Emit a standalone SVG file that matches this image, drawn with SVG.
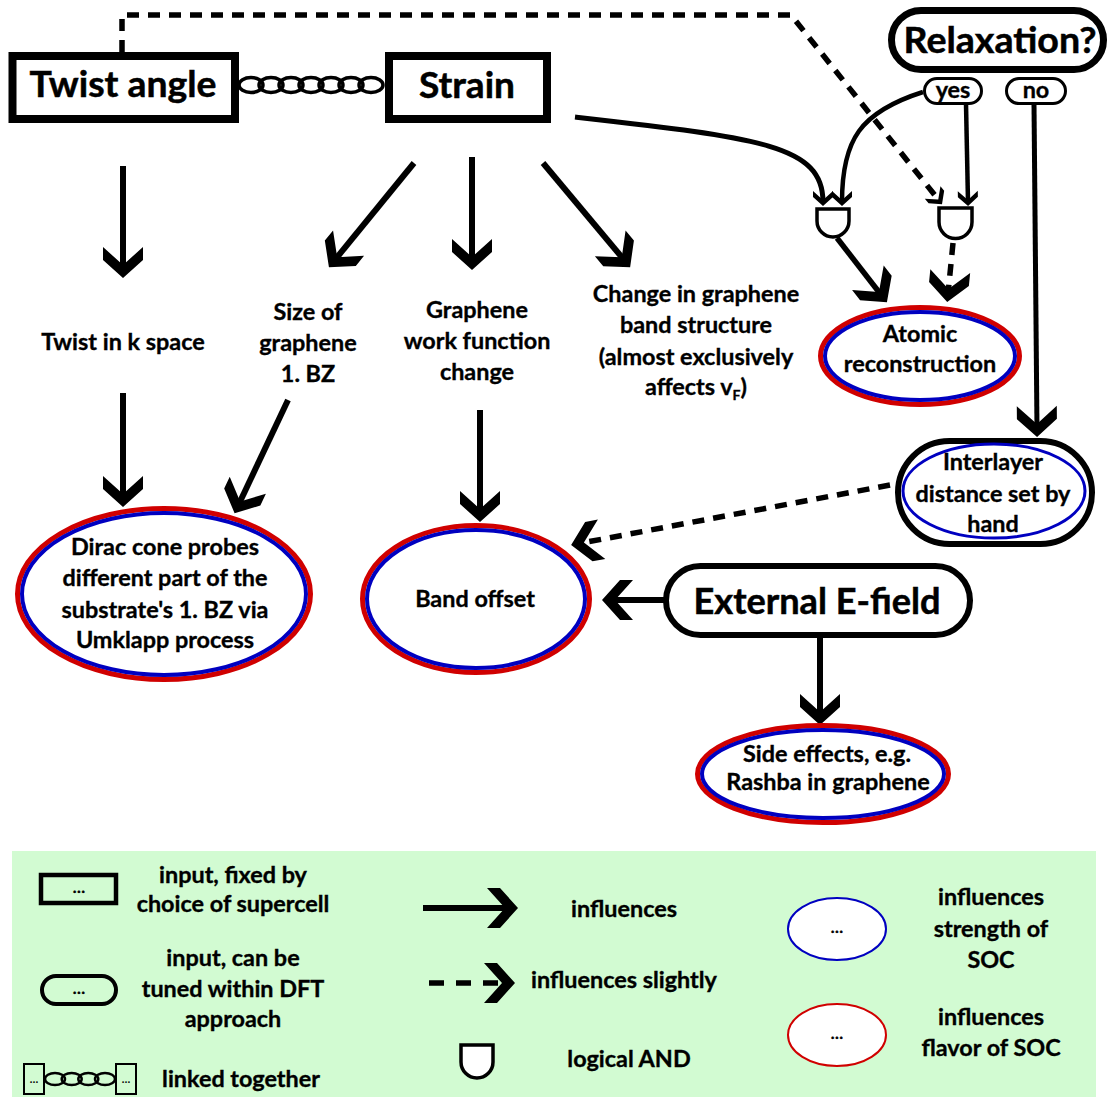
<svg xmlns="http://www.w3.org/2000/svg" width="1110" height="1104" viewBox="0 0 1110 1104">
<style>
.t{font-family:Lato,"Liberation Sans",sans-serif;font-weight:700;font-size:23.4px;text-anchor:middle;fill:#000;stroke:#000;stroke-width:0.35}
.big{font-size:36px;stroke-width:0.5}
.box{fill:#fff;stroke:#000}
.ln{fill:none;stroke:#000;stroke-width:6}
.dash{fill:none;stroke:#000;stroke-width:5.5;stroke-dasharray:12 9}
.red{fill:none;stroke:#d00000;stroke-width:5}
.blue{fill:none;stroke:#0000c0;stroke-width:4}
.link{fill:none;stroke:#000;stroke-width:3.5}
.gate{fill:#fff;stroke:#000;stroke-width:3.5}
</style>
<defs>
<marker id="ah" viewBox="-34 -22 40 44" refX="-8" refY="0" markerWidth="40" markerHeight="44" markerUnits="userSpaceOnUse" orient="auto">
<path d="M0,0 L-18,-20 L-31,-20 L-13,0 L-31,20 L-18,20 Z" fill="#000"/>
</marker>
<marker id="ahs" viewBox="-18 -12 22 24" refX="-4" refY="0" markerWidth="22" markerHeight="24" markerUnits="userSpaceOnUse" orient="auto">
<path d="M0,0 L-9,-10 L-15,-10 L-6,0 L-15,10 L-9,10 Z" fill="#000"/>
</marker>
</defs>
<rect width="1110" height="1104" fill="#fff"/>

<g id="legend">
<rect x="12" y="851" width="1084" height="246" fill="#d2fbd2"/>
<rect x="41" y="875" width="75" height="28" fill="none" stroke="#000" stroke-width="4.5"/>
<text class="t" x="79" y="893" style="font-size:16px">…</text>
<text class="t" x="233" y="883">input, fixed by</text>
<text class="t" x="233" y="912">choice of supercell</text>
<rect x="42" y="976" width="74" height="28" rx="14" fill="none" stroke="#000" stroke-width="4"/>
<text class="t" x="79" y="994" style="font-size:16px">…</text>
<text class="t" x="233" y="966">input, can be</text>
<text class="t" x="233" y="997">tuned within DFT</text>
<text class="t" x="233" y="1027">approach</text>
<rect x="24" y="1064" width="20" height="30" fill="none" stroke="#000" stroke-width="2"/>
<rect x="116" y="1064" width="20" height="30" fill="none" stroke="#000" stroke-width="2"/>
<text class="t" x="34" y="1083" style="font-size:11px;stroke-width:0">…</text>
<text class="t" x="126" y="1083" style="font-size:11px;stroke-width:0">…</text>
<g fill="none" stroke="#000" stroke-width="2.5">
<ellipse cx="55" cy="1079" rx="10" ry="6"/>
<ellipse cx="71.7" cy="1079" rx="10" ry="6"/>
<ellipse cx="88.3" cy="1079" rx="10" ry="6"/>
<ellipse cx="105" cy="1079" rx="10" ry="6"/>
</g>
<text class="t" x="241" y="1087">linked together</text>
<line x1="423" y1="908" x2="510" y2="908" class="ln" marker-end="url(#ah)"/>
<text class="t" x="624" y="917">influences</text>
<line x1="429" y1="983" x2="507" y2="983" class="dash" style="stroke-dasharray:15 12" marker-end="url(#ah)"/>
<text class="t" x="624" y="988">influences slightly</text>
<path d="M461,1045 L461,1062 A16,16 0 0 0 493,1062 L493,1045 Z" class="gate"/>
<text class="t" x="629" y="1067">logical AND</text>
<ellipse cx="837" cy="929" rx="49" ry="31" fill="#fff" stroke="#0000c0" stroke-width="2"/>
<text class="t" x="837" y="933" style="font-size:16px">…</text>
<ellipse cx="837" cy="1035" rx="49" ry="31" fill="#fff" stroke="#d00000" stroke-width="2"/>
<text class="t" x="837" y="1039" style="font-size:16px">…</text>
<text class="t" x="991" y="905">influences</text>
<text class="t" x="991" y="937">strength of</text>
<text class="t" x="991" y="968">SOC</text>
<text class="t" x="991" y="1025">influences</text>
<text class="t" x="991" y="1056">flavor of SOC</text>
</g>

<g id="connectors">
<path d="M122,52 L122,15 L791,15 L939.5,201" class="dash" marker-end="url(#ahs)"/>
<g id="chain">
<ellipse cx="251" cy="85" rx="12" ry="7.5" class="link"/>
<ellipse cx="271" cy="85" rx="12" ry="7.5" class="link"/>
<ellipse cx="291" cy="85" rx="12" ry="7.5" class="link"/>
<ellipse cx="311" cy="85" rx="12" ry="7.5" class="link"/>
<ellipse cx="331" cy="85" rx="12" ry="7.5" class="link"/>
<ellipse cx="351" cy="85" rx="12" ry="7.5" class="link"/>
<ellipse cx="371" cy="85" rx="12" ry="7.5" class="link"/>
</g>
<line x1="123" y1="166" x2="123" y2="270" class="ln" marker-end="url(#ah)"/>
<line x1="414" y1="163" x2="334" y2="261" class="ln" marker-end="url(#ah)"/>
<line x1="472" y1="157" x2="472" y2="262" class="ln" marker-end="url(#ah)"/>
<line x1="543" y1="163" x2="625" y2="261" class="ln" marker-end="url(#ah)"/>
<line x1="123" y1="393" x2="123" y2="499" class="ln" marker-end="url(#ah)"/>
<line x1="288" y1="400" x2="238" y2="506" class="ln" marker-end="url(#ah)"/>
<line x1="480" y1="410" x2="480" y2="514" class="ln" marker-end="url(#ah)"/>
<path d="M575,117 C760,138 823,145 823,202" fill="none" stroke="#000" stroke-width="5" marker-end="url(#ahs)"/>
<path d="M923,92 C860,112 842,140 842,202" fill="none" stroke="#000" stroke-width="4.5" marker-end="url(#ahs)"/>
<line x1="966" y1="104" x2="968" y2="202" fill="none" stroke="#000" stroke-width="4.5" marker-end="url(#ahs)"/>
<line x1="837" y1="238" x2="882" y2="296" fill="none" stroke="#000" stroke-width="5.5" marker-end="url(#ah)"/>
<line x1="953" y1="243" x2="948" y2="294" class="dash" marker-end="url(#ah)"/>
<line x1="1034" y1="104" x2="1037" y2="429" fill="none" stroke="#000" stroke-width="5" marker-end="url(#ah)"/>
<line x1="890" y1="485" x2="579" y2="543.5" class="dash" marker-end="url(#ah)"/>
<line x1="664" y1="600" x2="610" y2="600" class="ln" marker-end="url(#ah)"/>
<line x1="820" y1="638" x2="820" y2="717" class="ln" marker-end="url(#ah)"/>
</g>

<g id="twist-angle">
<rect x="12.5" y="56" width="222.5" height="63" class="box" stroke-width="8"/>
<text class="t big" x="123" y="97" textLength="187" lengthAdjust="spacingAndGlyphs">Twist angle</text>
</g>
<g id="strain">
<rect x="389" y="56" width="158" height="63" class="box" stroke-width="8"/>
<text class="t big" x="467" y="98" textLength="96" lengthAdjust="spacingAndGlyphs">Strain</text>
</g>
<g id="relaxation">
<rect x="891.5" y="10.5" width="212" height="59" rx="29.5" class="box" stroke-width="7"/>
<text class="t big" x="1000" y="53" textLength="193" lengthAdjust="spacingAndGlyphs">Relaxation?</text>
</g>
<g id="yes">
<rect x="924.5" y="78.5" width="57" height="25" rx="12.5" class="box" stroke-width="3"/>
<text class="t" x="953" y="98">yes</text>
</g>
<g id="no">
<rect x="1006.5" y="78.5" width="59" height="25" rx="12.5" class="box" stroke-width="3"/>
<text class="t" x="1036" y="98">no</text>
</g>
<g id="and1">
<path d="M817,209 L817,221 A16,16 0 0 0 849,221 L849,209 Z" class="gate"/>
</g>
<g id="and2">
<path d="M939,208 L939,222 A16.5,16.5 0 0 0 972,222 L972,208 Z" class="gate"/>
</g>
<g id="twist-k">
<text class="t" x="123" y="350">Twist in k space</text>
</g>
<g id="size-bz">
<text class="t" x="308" y="320">Size of</text>
<text class="t" x="308" y="351">graphene</text>
<text class="t" x="308" y="382">1. BZ</text>
</g>
<g id="work-function">
<text class="t" x="477" y="318">Graphene</text>
<text class="t" x="477" y="349">work function</text>
<text class="t" x="477" y="380">change</text>
</g>
<g id="band-structure">
<text class="t" x="696" y="302">Change in graphene</text>
<text class="t" x="696" y="333">band structure</text>
<text class="t" x="696" y="365">(almost exclusively</text>
<text class="t" x="696" y="395">affects v<tspan font-size="14" dy="5">F</tspan><tspan dy="-5">)</tspan></text>
</g>
<g id="atomic">
<ellipse cx="920" cy="356" rx="99.5" ry="48.5" fill="#fff" class="red"/>
<ellipse cx="920" cy="356" rx="95" ry="44" class="blue"/>
<text class="t" x="920" y="342">Atomic</text>
<text class="t" x="920" y="372">reconstruction</text>
</g>
<g id="interlayer">
<rect x="898" y="441" width="194" height="103" rx="51.5" class="box" stroke-width="6"/>
<ellipse cx="994" cy="491" rx="91" ry="47" fill="none" stroke="#0000c0" stroke-width="3"/>
<text class="t" x="993" y="470">Interlayer</text>
<text class="t" x="993" y="502">distance set by</text>
<text class="t" x="993" y="532">hand</text>
</g>
<g id="dirac">
<ellipse cx="164" cy="594" rx="146.5" ry="85.5" fill="#fff" class="red"/>
<ellipse cx="164" cy="594" rx="142" ry="81" class="blue"/>
<text class="t" x="165" y="555">Dirac cone probes</text>
<text class="t" x="165" y="586">different part of the</text>
<text class="t" x="165" y="618">substrate's 1. BZ via</text>
<text class="t" x="165" y="648">Umklapp process</text>
</g>
<g id="band-offset">
<ellipse cx="476" cy="599" rx="113.5" ry="73.5" fill="#fff" class="red"/>
<ellipse cx="476" cy="599" rx="109" ry="69" class="blue"/>
<text class="t" x="475" y="607">Band offset</text>
</g>
<g id="efield">
<rect x="666" y="566" width="304" height="69" rx="34.5" class="box" stroke-width="6"/>
<text class="t big" x="817" y="614" textLength="247" lengthAdjust="spacingAndGlyphs">External E-field</text>
</g>
<g id="side-effects">
<ellipse cx="823" cy="774" rx="125.5" ry="48.5" fill="#fff" class="red"/>
<ellipse cx="823" cy="774" rx="121" ry="44" class="blue"/>
<text class="t" x="827" y="762">Side effects, e.g.</text>
<text class="t" x="828" y="790">Rashba in graphene</text>
</g>
</svg>
